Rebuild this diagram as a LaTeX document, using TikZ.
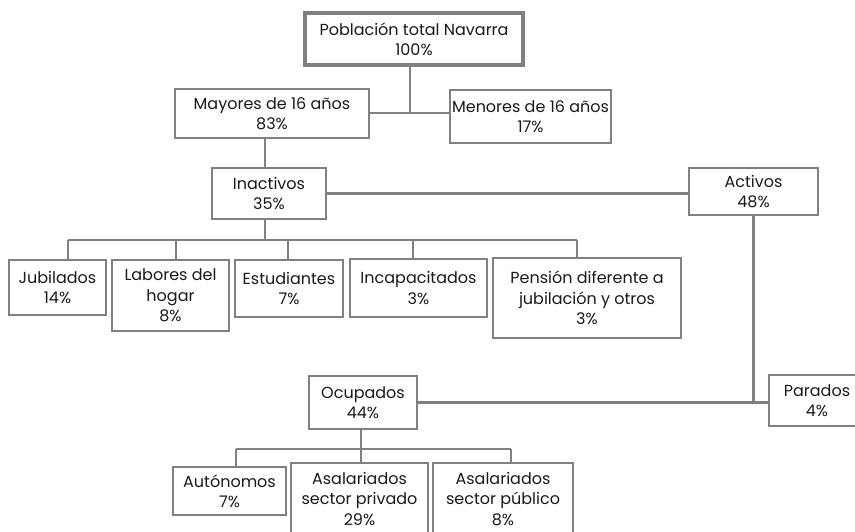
\documentclass[tikz,border=0pt]{standalone}
\usepackage{fontspec}
\setmainfont{Poppins}
\definecolor{linegray}{HTML}{808080}
\definecolor{txt}{HTML}{1A1A1A}
\begin{document}
\begin{tikzpicture}[x=0.75pt,y=-0.75pt,
  box/.style={draw=linegray,line width=2pt,fill=white,align=center,inner sep=0pt,
    font=\fontsize{12}{15.3}\selectfont,text=txt},
  midbox/.style={box,line width=2.2pt},
  thickbox/.style={box,line width=2.8pt},
  conn/.style={draw=linegray,line width=2.1pt}]
\useasboundingbox[fill=white] (0,0) rectangle (855,531);
% boxes
\node[thickbox,minimum width=163.5pt,minimum height=39pt] (top) at (414,39) {Población total Navarra\\100\%};
\node[box,minimum width=145.5pt,minimum height=36.75pt] (mayores) at (272,113.5) {Mayores de 16 años\\83\%};
\node[box,minimum width=120.75pt,minimum height=39.75pt] (menores) at (530.5,116.5) {Menores de 16 años\\17\%};
\node[box,minimum width=85.5pt,minimum height=38.25pt] (inactivos) at (269,193.5) {Inactivos\\35\%};
\node[box,minimum width=96.75pt,minimum height=35.25pt] (activos) at (753.5,191.5) {Activos\\48\%};
\node[box,minimum width=72.75pt,minimum height=41.25pt] (jubilados) at (57.5,287.5) {Jubilados\\14\%};
\node[midbox,minimum width=87.75pt,minimum height=53.25pt] (labores) at (170.5,295.5) {Labores del\\hogar\\8\%};
\node[box,minimum width=81pt,minimum height=42.75pt] (estudiantes) at (289,288.5) {Estudiantes\\7\%};
\node[box,minimum width=102.75pt,minimum height=43.5pt] (incapacitados) at (418.5,288) {Incapacitados\\3\%};
\node[midbox,minimum width=141pt,minimum height=60pt] (pension) at (587,298) {Pensión diferente a\\jubilación y otros\\3\%};
\node[box,minimum width=81pt,minimum height=39.75pt] (ocupados) at (363,402.5) {Ocupados\\44\%};
\node[box,minimum width=72pt,minimum height=38.25pt] (parados) at (817,400.5) {Parados\\4\%};
\node[box,minimum width=84.75pt,minimum height=36pt] (autonomos) at (229.5,491) {Autónomos\\7\%};
\node[box,minimum width=102.75pt,minimum height=54pt] (privado) at (359.5,499) {Asalariados\\sector privado\\29\%};
\node[box,minimum width=105pt,minimum height=54pt] (publico) at (503,499) {Asalariados\\sector público\\8\%};
% junction points
\coordinate (j1) at (410,113);
\coordinate (xa) at (265,0);
\coordinate (d1) at (68,240);
\coordinate (d2) at (176,240);
\coordinate (d3) at (288,240);
\coordinate (d4) at (413,240);
\coordinate (d5) at (577,240);
\coordinate (e1) at (236,449);
\coordinate (e2) at (361,449);
\coordinate (e3) at (511,449);
% connectors
\draw[conn] (top.south -| j1) -- (j1);
\draw[conn] (mayores.east |- j1) -- (menores.west |- j1);
\draw[conn] (mayores.south -| xa) -- (inactivos.north -| xa);
\draw[conn] (inactivos.east) -- (inactivos.east -| activos.west);
\draw[conn] (activos.south) -- (activos.south |- ocupados.east);
\draw[conn] (ocupados.east) -- (ocupados.east -| parados.west);
\draw[conn] (inactivos.south -| xa) -- (d1 -| xa);
\draw[conn] (d1) -- (d5);
\draw[conn] (d1) -- (d1 |- jubilados.north);
\draw[conn] (d2) -- (d2 |- labores.north);
\draw[conn] (d3) -- (d3 |- estudiantes.north);
\draw[conn] (d4) -- (d4 |- incapacitados.north);
\draw[conn] (d5) -- (d5 |- pension.north);
\draw[conn] (ocupados.south -| e2) -- (e2);
\draw[conn] (e1) -- (e3);
\draw[conn] (e1) -- (e1 |- autonomos.north);
\draw[conn] (e2) -- (e2 |- privado.north);
\draw[conn] (e3) -- (e3 |- publico.north);
\end{tikzpicture}
\end{document}
